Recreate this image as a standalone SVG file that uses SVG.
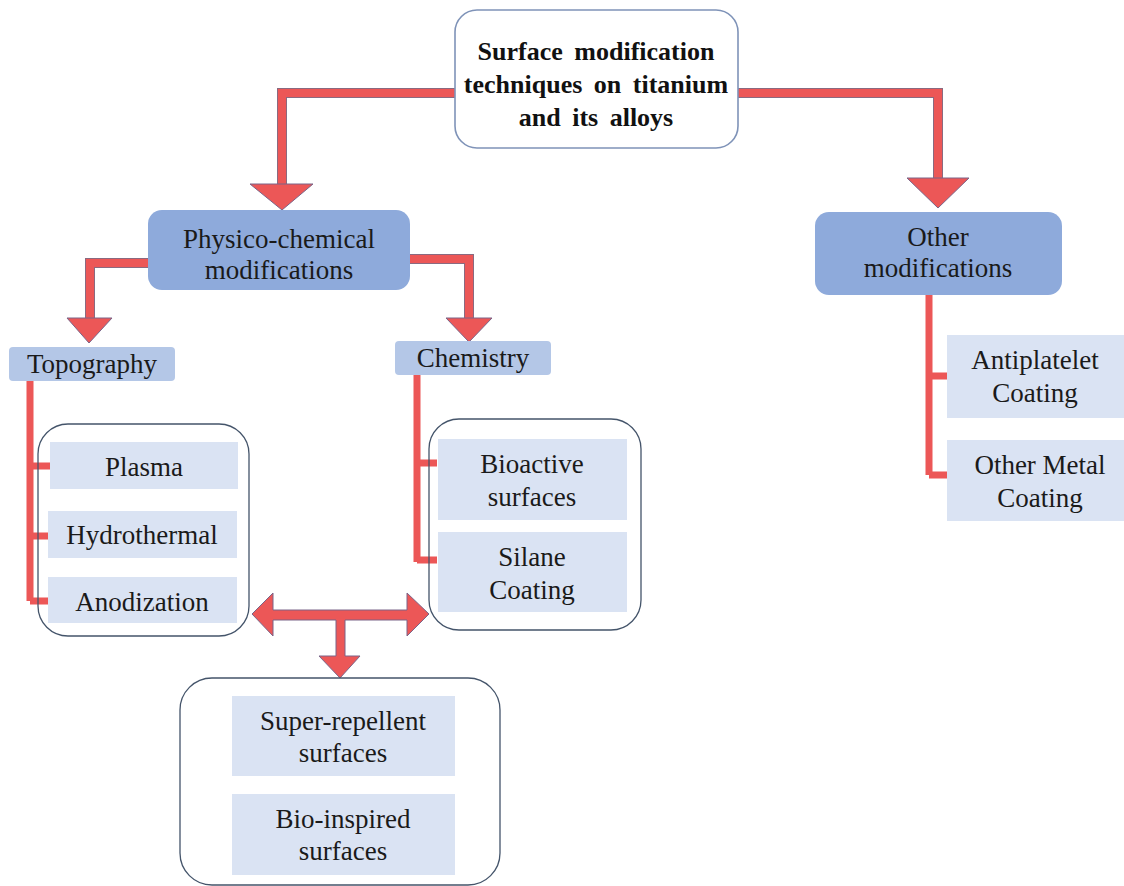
<svg xmlns="http://www.w3.org/2000/svg" width="1124" height="886" viewBox="0 0 1124 886">
<style>
.t{font-family:"Liberation Serif","DejaVu Serif","Noto Serif",serif;font-size:27px;fill:#1a1a1a;text-anchor:middle}
.tb{font-family:"Liberation Serif","DejaVu Serif","Noto Serif",serif;font-size:26px;font-weight:bold;fill:#111;text-anchor:middle;word-spacing:5px}
.dark{fill:#8eaadb}
.mid{fill:#b4c7e7}
.light{fill:#dae3f3}
.grp{fill:none;stroke:#44546a;stroke-width:1.3}
.ln{fill:none;stroke:#ec5757;stroke-width:8}
.lo{fill:none;stroke:#8a6a80;stroke-width:10}
.hd{fill:#ec5757;stroke:#7a6488;stroke-width:1}
</style>
<rect width="1124" height="886" fill="#fff"/>

<g id="connectors">
  <path class="lo" d="M456,93 H282 V186"/>
  <path class="ln" d="M456,93 H282 V186"/>
  <polygon class="hd" points="250,184 313,184 282,210"/>
  <path class="lo" d="M737,93 H938 V180"/>
  <path class="ln" d="M737,93 H938 V180"/>
  <polygon class="hd" points="907,178 969,178 938,208"/>
  <path class="lo" d="M149,263 H90 V320"/>
  <path class="ln" d="M149,263 H90 V320"/>
  <polygon class="hd" points="67,318 112,318 89,343"/>
  <path class="lo" d="M409,259 H469 V320"/>
  <path class="ln" d="M409,259 H469 V320"/>
  <polygon class="hd" points="446,318 492,318 469,342"/>
  <path class="ln" d="M30,381 V601 M30,466 H50 M30,536 H48 M30,601 H48" style="stroke-width:7"/>
  <path class="ln" d="M417,375 V562 M417,463 H437 M417,560 H437" style="stroke-width:7"/>
  <path class="ln" d="M929,295 V475 M929,376 H947 M929,475 H947" style="stroke-width:7"/>
  <path class="hd" d="M252,614 L273,593 L273,610 L407,610 L407,593 L429,614 L407,636 L407,620 L345,620 L345,656 L360,656 L340,678 L319,656 L336,656 L336,620 L273,620 L273,636 Z"/>
</g>

<g id="top">
  <rect x="455" y="10" width="283" height="138" rx="22" fill="#fff" stroke="#7f93b8" stroke-width="1.6"/>
  <text class="tb" x="596" y="60">Surface modification</text>
  <text class="tb" x="596" y="93">techniques on titanium</text>
  <text class="tb" x="596" y="126">and its alloys</text>
</g>

<g id="physico">
  <rect class="dark" x="148" y="210" width="262" height="80" rx="14"/>
  <text class="t" x="279" y="248">Physico-chemical</text>
  <text class="t" x="279" y="279">modifications</text>
</g>

<g id="other">
  <rect class="dark" x="815" y="212" width="247" height="83" rx="14"/>
  <text class="t" x="938" y="246">Other</text>
  <text class="t" x="938" y="277">modifications</text>
</g>

<g id="topography">
  <rect class="mid" x="9" y="347" width="166" height="34" rx="4"/>
  <text class="t" x="92" y="373">Topography</text>
</g>

<g id="chemistry">
  <rect class="mid" x="395" y="341" width="156" height="34" rx="4"/>
  <text class="t" x="473" y="367">Chemistry</text>
</g>

<g id="topo-group">
  <rect class="grp" x="38" y="424" width="211" height="212" rx="30"/>
</g>
<g id="plasma">
  <rect class="light" x="50" y="442" width="188" height="47"/>
  <text class="t" x="144" y="476">Plasma</text>
</g>
<g id="hydrothermal">
  <rect class="light" x="48" y="511" width="189" height="47"/>
  <text class="t" x="142" y="544">Hydrothermal</text>
</g>
<g id="anodization">
  <rect class="light" x="48" y="577" width="189" height="46"/>
  <text class="t" x="142" y="611">Anodization</text>
</g>

<g id="chem-group">
  <rect class="grp" x="429" y="419" width="212" height="211" rx="30"/>
</g>
<g id="bioactive">
  <rect class="light" x="438" y="439" width="189" height="81"/>
  <text class="t" x="532" y="473">Bioactive</text>
  <text class="t" x="532" y="506">surfaces</text>
</g>
<g id="silane">
  <rect class="light" x="438" y="532" width="189" height="80"/>
  <text class="t" x="532" y="566">Silane</text>
  <text class="t" x="532" y="599">Coating</text>
</g>

<g id="antiplatelet">
  <rect class="light" x="947" y="335" width="177" height="83"/>
  <text class="t" x="1035" y="369">Antiplatelet</text>
  <text class="t" x="1035" y="402">Coating</text>
</g>
<g id="othermetal">
  <rect class="light" x="947" y="440" width="177" height="81"/>
  <text class="t" x="1040" y="474">Other Metal</text>
  <text class="t" x="1040" y="507">Coating</text>
</g>

<g id="bottom-group">
  <rect class="grp" x="180" y="678" width="320" height="207" rx="32"/>
</g>
<g id="superrepellent">
  <rect class="light" x="232" y="696" width="223" height="80"/>
  <text class="t" x="343" y="730">Super-repellent</text>
  <text class="t" x="343" y="762">surfaces</text>
</g>
<g id="bioinspired">
  <rect class="light" x="232" y="794" width="223" height="81"/>
  <text class="t" x="343" y="828">Bio-inspired</text>
  <text class="t" x="343" y="860">surfaces</text>
</g>
</svg>
